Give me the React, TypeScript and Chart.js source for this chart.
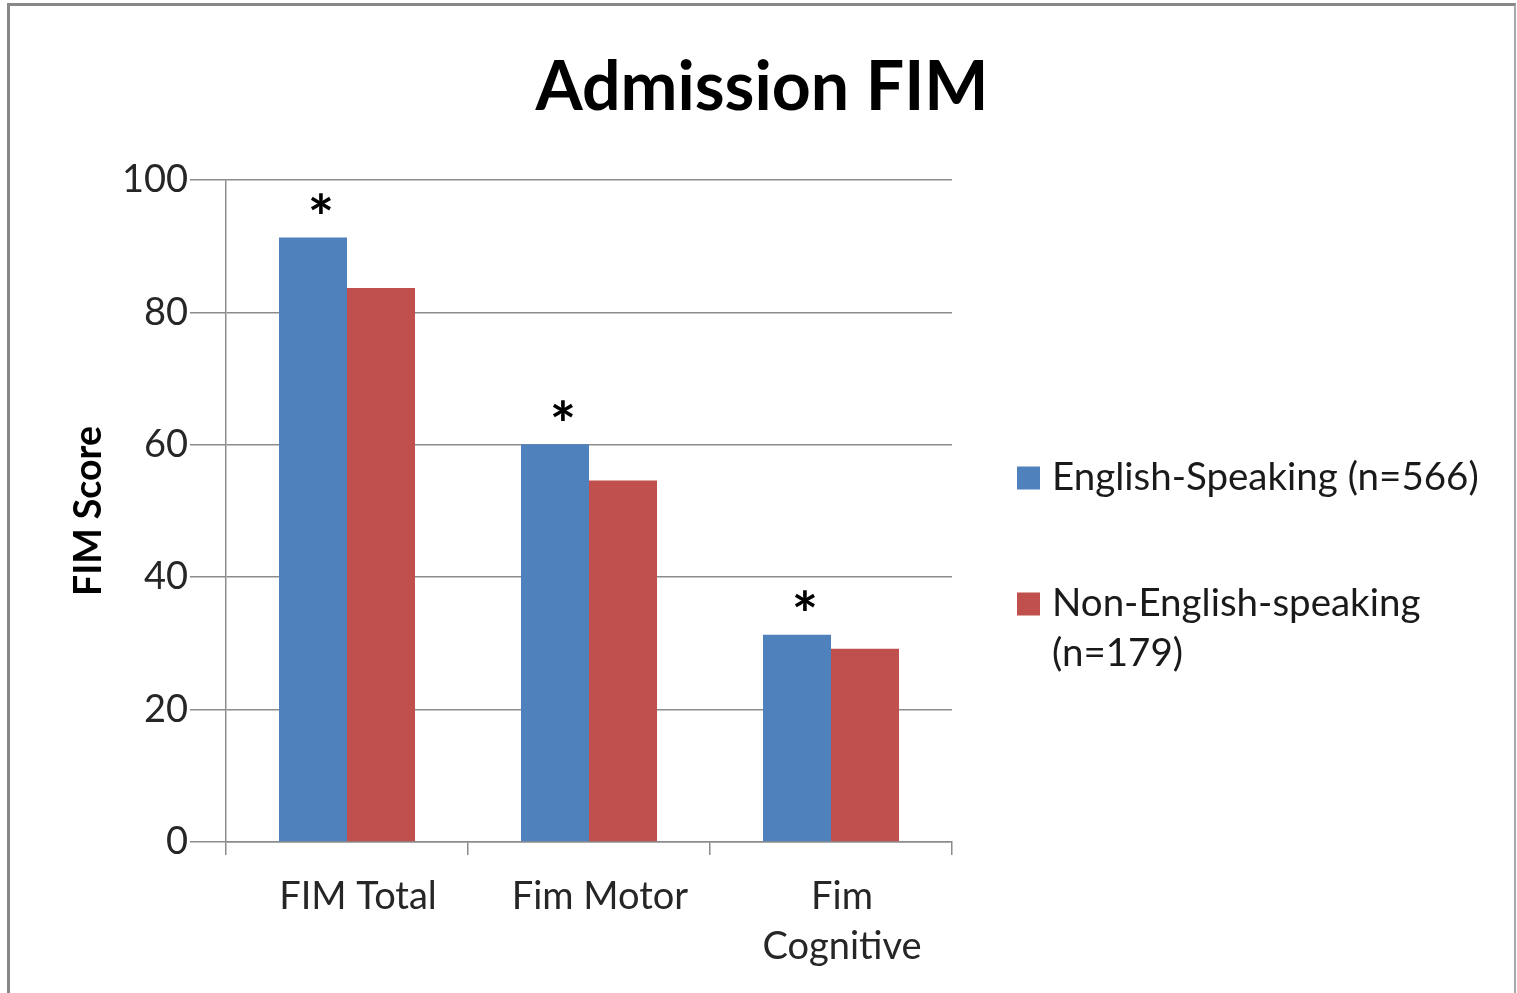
import React, { useEffect, useRef } from "react";
import { Chart, registerables } from "chart.js";

Chart.register(...registerables);

const chartTitle = "Admission FIM";
const categories: (string | string[])[] = ["FIM Total", "Fim Motor", ["Fim", "Cognitive"]];
const seriesNames = ["English-Speaking (n=566)", "Non-English-speaking (n=179)"];
const legendLines = [["English-Speaking (n=566)"], ["Non-English-speaking", "(n=179)"]];
const englishValues = [91.3, 60.1, 31.3];
const nonEnglishValues = [83.7, 54.6, 29.2];
const significant = [true, true, true];
const yTicks = [0, 20, 40, 60, 80, 100];
const yTitle = "FIM Score";

const BLUE = "#4F81BD";
const RED = "#C0504D";
const GRID = "#8c8c8c";
const TEXT = "#262626";
const FONT = "Lato";

const overlayPlugin = {
  id: "overlay",
  afterDraw(chart: any) {
    const ctx = chart.ctx as CanvasRenderingContext2D;
    ctx.save();
    // Title
    ctx.fillStyle = "#000";
    ctx.font = `bold 68px ${FONT}`;
    ctx.textAlign = "center";
    ctx.textBaseline = "alphabetic";
    ctx.fillText(chartTitle, 762, 110);

    // Asterisks above the first series bars
    const meta = chart.getDatasetMeta(0);
    ctx.font = `bold 62px ${FONT}`;
    const m = ctx.measureText("*");
    const shift = (m.actualBoundingBoxAscent - m.actualBoundingBoxDescent) / 2;
    meta.data.forEach((el: any, i: number) => {
      if (!significant[i]) return;
      ctx.fillStyle = "#000";
      ctx.textAlign = "center";
      ctx.fillText("*", el.x + 8, el.y - 34 + shift);
    });

    // Legend
    const colors = [BLUE, RED];
    const ys = [478, 604];
    ctx.font = `38.5px ${FONT}`;
    ctx.textAlign = "left";
    ctx.textBaseline = "middle";
    legendLines.forEach((lines, i) => {
      ctx.fillStyle = colors[i];
      ctx.fillRect(1017, ys[i] - 11.5, 23, 23);
      ctx.fillStyle = "#1a1a1a";
      lines.forEach((t, j) => ctx.fillText(t, 1052, ys[i] + j * 50));
    });
    ctx.restore();
  },
};

export default function App() {
  const ref = useRef<HTMLCanvasElement>(null);
  useEffect(() => {
    const chart = new Chart(ref.current!, {
      type: "bar",
      data: {
        labels: categories as any,
        datasets: [
          {
            label: seriesNames[0],
            data: englishValues,
            backgroundColor: BLUE,
            barPercentage: 1,
            categoryPercentage: 0.562,
          },
          {
            label: seriesNames[1],
            data: nonEnglishValues,
            backgroundColor: RED,
            barPercentage: 1,
            categoryPercentage: 0.562,
          },
        ],
      },
      options: {
        responsive: false,
        animation: false,
        devicePixelRatio: 1,
        layout: { padding: { top: 180, left: 0, right: 565, bottom: 0 } },
        plugins: {
          legend: { display: false },
          title: { display: false },
          tooltip: { enabled: false },
        },
        scales: {
          x: {
            grid: {
              display: true,
              drawOnChartArea: false,
              drawTicks: true,
              tickLength: 13,
              color: GRID,
              lineWidth: 1.5,
              offset: true,
            },
            border: { display: true, color: GRID, width: 1.5 },
            ticks: {
              font: { family: FONT, size: 38, lineHeight: 1.32 },
              color: TEXT,
              padding: 17,
              labelOffset: 11,
              maxRotation: 0,
              autoSkip: false,
            },
            afterFit: (s: any) => {
              s.height = 151;
            },
          },
          y: {
            min: 0,
            max: 100,
            afterBuildTicks: (s: any) => {
              s.ticks = yTicks.map((v) => ({ value: v }));
            },
            ticks: {
              font: { family: FONT, size: 38 },
              color: TEXT,
              padding: 2,
            },
            grid: { color: GRID, lineWidth: 1.5, tickLength: 36 },
            border: { display: true, color: GRID, width: 1.5 },
            title: {
              display: true,
              text: yTitle,
              font: { family: FONT, size: 37.5, weight: "bold" },
              color: "#000",
              padding: { top: 66, bottom: 0 },
            },
            afterFit: (s: any) => {
              s.width = 226;
            },
          },
        },
      },
      plugins: [overlayPlugin],
    });
    return () => chart.destroy();
  }, []);

  return (
    <div
      style={{
        position: "fixed",
        left: 0,
        top: 0,
        width: 1517,
        height: 993,
        background: "#fff",
        overflow: "hidden",
      }}
    >
      <div
        style={{
          position: "absolute",
          left: 7,
          top: 3,
          width: 1509,
          height: 1100,
          boxSizing: "border-box",
          borderLeft: "3px solid #888",
          borderTop: "3px solid #888",
          borderRight: "2px solid #a8a8a8",
        }}
      />
      <canvas
        ref={ref}
        width={1517}
        height={993}
        style={{ position: "absolute", left: 0, top: 0, width: 1517, height: 993 }}
      />
    </div>
  );
}
